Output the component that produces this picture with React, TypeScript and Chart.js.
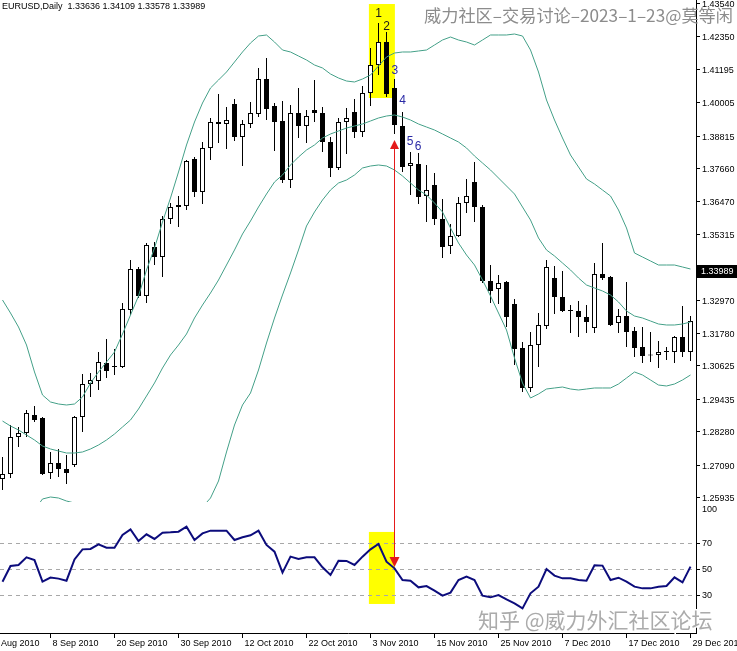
import React, { useEffect, useRef } from 'react';
import { Chart, registerables } from 'chart.js';

Chart.register(...registerables);

const symbolTitle = 'EURUSD,Daily  1.33636 1.34109 1.33578 1.33989';
const lastPrice = 1.33989;
const watermarkTop = '威力社区–交易讨论–2023–1–23@莫等闲';
const watermarkBottom = '知乎 @威力外汇社区论坛';

const dateTickBars = [-2, 6, 14, 22, 30, 38, 46, 54, 62, 70, 78, 86];
const dateTickLabels = ['27 Aug 2010', '8 Sep 2010', '20 Sep 2010', '30 Sep 2010', '12 Oct 2010', '22 Oct 2010', '3 Nov 2010', '15 Nov 2010', '25 Nov 2010', '7 Dec 2010', '17 Dec 2010', '29 Dec 2010'];

const priceTicks = [1.4354, 1.4235, 1.41195, 1.40005, 1.38815, 1.3766, 1.3647, 1.35315, 1.34135, 1.3297, 1.3178, 1.30625, 1.29435, 1.2828, 1.2709, 1.25935];
const rsiTickValues = [100, 70, 50, 30, 0];
const rsiLevels = [70, 50, 30];

const opens = [1.26577,1.26755,1.28073,1.28216,1.28857,1.28751,1.26790,1.27147,1.26933,1.27076,
1.28786,1.29962,1.30069,1.30711,1.30604,1.30568,1.32600,1.34060,1.33098,1.34844,
1.34488,1.35842,1.36270,1.36305,1.37980,1.36804,1.38372,1.39299,1.39228,1.39940,
1.38764,1.39228,1.39584,1.40832,1.39869,1.39335,1.37232,1.39620,1.39156,1.39727,
1.39620,1.38586,1.37660,1.39299,1.39655,1.38943,1.40333,1.41331,1.42150,1.40511,
1.39156,1.37731,1.37802,1.36662,1.37054,1.35842,1.34880,1.35236,1.36412,1.37161,
1.36270,1.33632,1.33347,1.33597,1.32813,1.31245,1.29820,1.31352,1.32029,1.33739,
1.33062,1.32600,1.32564,1.32350,1.31958,1.33882,1.33775,1.32136,1.32386,1.31851,
1.31281,1.30996,1.30996,1.31139,1.31103,1.31637,1.31103];

const highs = [1.27361,1.28501,1.28430,1.29036,1.29178,1.28786,1.27539,1.27646,1.27432,1.28822,
1.30319,1.30354,1.31103,1.31566,1.31210,1.32849,1.34381,1.34131,1.34987,1.35022,
1.35949,1.36412,1.36662,1.37945,1.38052,1.38586,1.39442,1.40297,1.39834,1.40119,
1.39370,1.40012,1.41224,1.41580,1.39976,1.40047,1.39905,1.40511,1.39727,1.40796,
1.39834,1.38764,1.39442,1.39798,1.40119,1.40582,1.41936,1.42827,1.42507,1.40832,
1.39655,1.38230,1.38194,1.37767,1.37481,1.36555,1.35664,1.36626,1.37268,1.37873,
1.36341,1.34203,1.33846,1.33632,1.32991,1.31459,1.31816,1.32493,1.34381,1.34167,
1.33989,1.32778,1.32920,1.32778,1.34274,1.34987,1.33810,1.32635,1.33597,1.31994,
1.31994,1.31816,1.31495,1.31281,1.31673,1.32742,1.32386];

const lows = [1.26185,1.26612,1.27717,1.28073,1.28608,1.26719,1.26577,1.26648,1.26398,1.27004,
1.28252,1.29499,1.29749,1.30176,1.30283,1.30533,1.32421,1.33027,1.32849,1.34203,
1.33775,1.35664,1.35557,1.36163,1.36626,1.36376,1.37945,1.38551,1.38337,1.38622,
1.37731,1.39085,1.39477,1.39370,1.38266,1.37125,1.36947,1.38729,1.38551,1.39299,
1.38230,1.37339,1.37588,1.38159,1.38729,1.38764,1.39869,1.40974,1.40190,1.38871,
1.37517,1.36697,1.36376,1.35735,1.35628,1.34452,1.34595,1.35200,1.36056,1.35735,
1.33561,1.32849,1.32813,1.31994,1.30640,1.29677,1.29677,1.30568,1.31923,1.32457,
1.32528,1.31780,1.31637,1.31780,1.31780,1.33668,1.32029,1.31780,1.31281,1.30925,
1.30711,1.30746,1.30533,1.30818,1.30711,1.30925,1.30782];

const closes = [1.26755,1.28073,1.28216,1.28929,1.28679,1.26755,1.27147,1.26933,1.26790,1.28786,
1.29962,1.30105,1.30746,1.30426,1.30568,1.32635,1.34060,1.33098,1.34915,1.34488,
1.35842,1.36270,1.36341,1.37909,1.36804,1.38372,1.39299,1.39228,1.39370,1.38764,
1.39228,1.39620,1.40832,1.39762,1.39299,1.37232,1.39620,1.39156,1.39513,1.39620,
1.38586,1.37660,1.39299,1.39442,1.38943,1.40333,1.41331,1.42150,1.40297,1.39192,
1.37695,1.37838,1.36626,1.36876,1.35842,1.34844,1.35236,1.36412,1.36662,1.36270,
1.33632,1.33276,1.33561,1.32350,1.31210,1.29820,1.31352,1.32065,1.34131,1.33062,
1.32564,1.32564,1.32350,1.32172,1.33882,1.33739,1.32065,1.32386,1.31816,1.31245,
1.30960,1.30980,1.31103,1.31103,1.31637,1.31103,1.32208];

const bbUpper = [1.32956,1.32492,1.31993,1.31352,1.30390,1.29570,1.29321,1.29249,1.29214,1.29249,
1.29499,1.29998,1.30390,1.30746,1.31102,1.31744,1.32421,1.33098,1.34025,1.34809,
1.35735,1.36591,1.37517,1.38480,1.39299,1.39976,1.40511,1.40796,1.41081,1.41437,
1.41794,1.42115,1.42364,1.42400,1.42150,1.41865,1.41794,1.41651,1.41509,1.41331,
1.41224,1.41010,1.40867,1.40760,1.40725,1.40832,1.40974,1.41295,1.41616,1.41758,
1.41794,1.41794,1.41830,1.41865,1.42043,1.42221,1.42328,1.42221,1.42150,1.42043,
1.42221,1.42400,1.42400,1.42400,1.42435,1.42364,1.41865,1.41081,1.40083,1.39370,
1.38729,1.38123,1.37696,1.37268,1.37090,1.36876,1.36662,1.36163,1.35522,1.34631,
1.34488,1.34346,1.34203,1.34203,1.34203,1.34132,1.34060];

const bbMiddle = [1.28643,1.28465,1.28323,1.28145,1.27966,1.27753,1.27646,1.27574,1.27503,1.27503,
1.27539,1.27646,1.27788,1.27966,1.28180,1.28430,1.28679,1.29071,1.29534,1.29998,
1.30532,1.30996,1.31352,1.31744,1.32314,1.32777,1.33205,1.33668,1.34203,1.34738,
1.35308,1.35771,1.36270,1.36733,1.37161,1.37410,1.37767,1.38052,1.38301,1.38480,
1.38729,1.38872,1.38978,1.39085,1.39157,1.39228,1.39335,1.39442,1.39513,1.39549,
1.39477,1.39370,1.39228,1.39121,1.39014,1.38872,1.38729,1.38586,1.38373,1.38088,
1.37838,1.37589,1.37303,1.37018,1.36733,1.36270,1.35807,1.35165,1.34738,1.34524,
1.34274,1.34025,1.33740,1.33490,1.33383,1.33276,1.33134,1.32884,1.32564,1.32385,
1.32314,1.32207,1.32100,1.32065,1.32065,1.32100,1.32172];

const bbLower = [1.24331,1.24474,1.24652,1.24937,1.25472,1.25864,1.25935,1.25899,1.25792,1.25721,
1.25543,1.25365,1.25187,1.25187,1.25222,1.25151,1.24973,1.25008,1.25008,1.25187,
1.25329,1.25400,1.25187,1.24973,1.25329,1.25579,1.25899,1.26505,1.27539,1.28501,
1.29214,1.29641,1.30461,1.31423,1.32314,1.33134,1.33918,1.34738,1.35593,1.36092,
1.36519,1.36876,1.37125,1.37232,1.37410,1.37660,1.37731,1.37767,1.37731,1.37589,
1.37375,1.37125,1.36876,1.36698,1.36413,1.36092,1.35522,1.34987,1.34559,1.34203,
1.33668,1.33098,1.32492,1.31887,1.30889,1.29998,1.29463,1.29606,1.29784,1.29820,
1.29855,1.29784,1.29748,1.29784,1.29820,1.29820,1.29820,1.29962,1.30176,1.30390,
1.30283,1.30105,1.29926,1.29891,1.29962,1.30105,1.30283];

const rsiValues = [40.2,52.3,53.1,59.0,56.9,40.3,43.4,42.6,41.0,57.4,
65.1,65.4,69.0,66.4,66.4,76.2,80.5,71.5,76.7,73.1,
77.9,78.2,78.7,82.6,72.3,77.4,79.5,79.5,79.5,72.3,
74.4,75.9,79.5,68.5,63.3,47.2,59.5,57.7,59.0,59.0,
51.3,45.4,56.4,56.2,53.1,59.5,65.1,69.2,55.6,50.5,
41.5,41.0,35.9,36.9,33.3,29.5,31.8,41.5,44.1,41.5,
29.5,28.2,30.0,26.7,23.6,19.7,31.3,36.4,50.0,44.9,
42.8,42.8,41.5,41.0,52.8,52.6,41.5,43.3,40.3,36.4,
35.1,35.1,36.4,36.9,43.6,39.7,51.8];

// annotations (anchored in data coordinates)
const waveLabels = ['1', '2', '3', '4', '5', '6'];
const waveBars = [47, 48, 49.05, 50, 50.95, 51.95];
const wavePrices = [1.43148, 1.42685, 1.41117, 1.40047, 1.38586, 1.38408];
const waveColors = ['#1a1a1a', '#1a1a1a', '#2a2aa6', '#2a2aa6', '#2a2aa6', '#2a2aa6'];
const highlightBars = [45.8, 49.05];
const highlightPrices = [1.43504, 1.40155];
const highlightRsi = [78.5, 23.1];
const signalBar = 49;
const arrowTopPrice = 1.38658;
const arrowBottomRsi = 51.5;

const AXIS_FONT = '9px "Liberation Sans", Arial, sans-serif';
const BAND_COLOR = '#44a088';
const X_MIN = -0.3125;
const X_MAX = 86.6875;

const mainOverlay = {
  id: 'mainOverlay',
  beforeDatasetsDraw(chart: any) {
    const { ctx, scales: { x, y } } = chart;
    ctx.save();
    ctx.fillStyle = '#ffff00';
    const x0 = x.getPixelForValue(highlightBars[0]);
    const x1 = x.getPixelForValue(highlightBars[1]);
    const y0 = y.getPixelForValue(highlightPrices[0]);
    const y1 = y.getPixelForValue(highlightPrices[1]);
    ctx.fillRect(x0, y0, x1 - x0, y1 - y0);
    ctx.restore();
  },
  afterDatasetsDraw(chart: any) {
    const { ctx, scales: { x, y } } = chart;
    ctx.save();
    const ax = Math.round(x.getPixelForValue(signalBar) - 0.5) + 0.5;
    const ay = y.getPixelForValue(arrowTopPrice);
    ctx.strokeStyle = '#e41a1a';
    ctx.fillStyle = '#e41a1a';
    ctx.lineWidth = 1;
    ctx.beginPath();
    ctx.moveTo(ax, ay + 6);
    ctx.lineTo(ax, chart.height);
    ctx.stroke();
    ctx.beginPath();
    ctx.moveTo(ax, ay);
    ctx.lineTo(ax - 4.5, ay + 9);
    ctx.lineTo(ax + 4.5, ay + 9);
    ctx.closePath();
    ctx.fill();
    ctx.font = '12px "Liberation Sans", Arial, sans-serif';
    ctx.textAlign = 'center';
    ctx.textBaseline = 'middle';
    waveLabels.forEach((t, i) => {
      ctx.fillStyle = waveColors[i];
      ctx.fillText(t, x.getPixelForValue(waveBars[i]), y.getPixelForValue(wavePrices[i]));
    });
    ctx.restore();
  },
  afterDraw(chart: any) {
    const { ctx, chartArea, scales: { y } } = chart;
    const r = chartArea.right;
    ctx.save();
    ctx.strokeStyle = '#000';
    ctx.lineWidth = 1;
    ctx.beginPath();
    ctx.moveTo(r + 0.5, 0);
    ctx.lineTo(r + 0.5, chart.height);
    ctx.stroke();
    ctx.font = AXIS_FONT;
    ctx.fillStyle = '#000';
    ctx.textAlign = 'left';
    ctx.textBaseline = 'middle';
    priceTicks.forEach((v) => {
      const py = Math.round(y.getPixelForValue(v)) + 0.5;
      ctx.beginPath();
      ctx.moveTo(r + 1, py);
      ctx.lineTo(r + 4, py);
      ctx.stroke();
      ctx.fillText(v.toFixed(5), r + 6, py + 1.5);
    });
    const by = Math.round(y.getPixelForValue(lastPrice));
    ctx.fillStyle = '#000';
    ctx.fillRect(r + 1, by - 6, chart.width - r - 1, 13);
    ctx.fillStyle = '#fff';
    ctx.fillText(lastPrice.toFixed(5), r + 5, by + 1);
    ctx.fillStyle = '#000';
    ctx.fillText(symbolTitle, 2, 7);
    ctx.font = '17.2px "Noto Sans CJK SC", sans-serif';
    ctx.fillStyle = '#8c8c8c';
    ctx.textAlign = 'right';
    ctx.fillText(watermarkTop, 733, 15);
    ctx.restore();
  },
};

const rsiOverlay = {
  id: 'rsiOverlay',
  beforeDatasetsDraw(chart: any) {
    const { ctx, chartArea, scales: { x, y } } = chart;
    ctx.save();
    ctx.fillStyle = '#ffff00';
    const x0 = x.getPixelForValue(highlightBars[0]);
    const x1 = x.getPixelForValue(highlightBars[1]);
    const y0 = y.getPixelForValue(highlightRsi[0]);
    const y1 = y.getPixelForValue(highlightRsi[1]);
    ctx.fillRect(x0, y0, x1 - x0, y1 - y0);
    ctx.strokeStyle = '#a8a8a8';
    ctx.lineWidth = 1;
    ctx.setLineDash([4, 4]);
    rsiLevels.forEach((lv) => {
      const py = Math.round(y.getPixelForValue(lv)) + 0.5;
      ctx.beginPath();
      ctx.moveTo(chartArea.left, py);
      ctx.lineTo(chartArea.right, py);
      ctx.stroke();
    });
    ctx.restore();
  },
  afterDatasetsDraw(chart: any) {
    const { ctx, scales: { x, y } } = chart;
    ctx.save();
    const ax = Math.round(x.getPixelForValue(signalBar) - 0.5) + 0.5;
    const ay = y.getPixelForValue(arrowBottomRsi);
    ctx.strokeStyle = '#e41a1a';
    ctx.fillStyle = '#e41a1a';
    ctx.lineWidth = 1;
    ctx.beginPath();
    ctx.moveTo(ax, 0);
    ctx.lineTo(ax, ay - 6);
    ctx.stroke();
    ctx.beginPath();
    ctx.moveTo(ax, ay);
    ctx.lineTo(ax - 5, ay - 10);
    ctx.lineTo(ax + 5, ay - 10);
    ctx.closePath();
    ctx.fill();
    ctx.restore();
  },
  afterDraw(chart: any) {
    const { ctx, chartArea, scales: { x, y } } = chart;
    const r = chartArea.right;
    const b = chartArea.bottom;
    ctx.save();
    ctx.strokeStyle = '#000';
    ctx.lineWidth = 1;
    ctx.beginPath();
    ctx.moveTo(r + 0.5, 0);
    ctx.lineTo(r + 0.5, b);
    ctx.moveTo(0, b - 0.5);
    ctx.lineTo(r + 1, b - 0.5);
    ctx.stroke();
    ctx.font = AXIS_FONT;
    ctx.fillStyle = '#000';
    ctx.textBaseline = 'middle';
    ctx.textAlign = 'left';
    rsiTickValues.forEach((v) => {
      const py = Math.round(y.getPixelForValue(v)) + 0.5;
      if (v !== 0 && v !== 100) {
        ctx.beginPath();
        ctx.moveTo(r + 1, py);
        ctx.lineTo(r + 4, py);
        ctx.stroke();
      }
      const ly = Math.min(Math.max(py, chartArea.top + 6), b - 8);
      ctx.fillText(String(v), r + 6, ly);
    });
    dateTickBars.forEach((bar, i) => {
      const px = Math.round(x.getPixelForValue(bar) - 0.5) + 0.5;
      ctx.beginPath();
      ctx.moveTo(px, b);
      ctx.lineTo(px, b + 4);
      ctx.stroke();
      ctx.fillText(dateTickLabels[i], px + 2, b + 10);
    });
    ctx.font = '21px "Noto Sans CJK SC", sans-serif';
    ctx.textAlign = 'left';
    ctx.lineWidth = 3;
    ctx.strokeStyle = '#ffffff';
    ctx.strokeText(watermarkBottom, 478, b - 14);
    ctx.fillStyle = '#ababab';
    ctx.fillText(watermarkBottom, 478, b - 14);
    ctx.restore();
  },
};

export default function App() {
  const mainRef = useRef<HTMLCanvasElement>(null);
  const rsiRef = useRef<HTMLCanvasElement>(null);

  useEffect(() => {
    document.body.style.margin = '0';
    const bandDs = (vals: number[], label: string) => ({
      type: 'line' as const,
      label,
      data: vals.map((v, i) => ({ x: i, y: v })),
      borderColor: BAND_COLOR,
      borderWidth: 1,
      pointRadius: 0,
      tension: 0,
      order: 1,
    });
    const main = new Chart(mainRef.current as HTMLCanvasElement, {
      type: 'bar',
      data: {
        datasets: [
          bandDs(bbUpper, 'upper'),
          bandDs(bbMiddle, 'middle'),
          bandDs(bbLower, 'lower'),
          {
            type: 'bar',
            label: 'bodies',
            data: opens.map((o, i) => ({ x: i, y: [o, closes[i]] })),
            backgroundColor: opens.map((o, i) => (closes[i] >= o ? '#ffffff' : '#000000')),
            borderColor: '#000000',
            borderWidth: 1,
            borderSkipped: false,
            barThickness: 5,
            minBarLength: 1,
            grouped: false,
            inflateAmount: 0,
            order: 2,
          } as any,
          {
            type: 'bar',
            label: 'wicks',
            data: lows.map((l, i) => ({ x: i, y: [l, highs[i]] })),
            backgroundColor: '#000000',
            borderWidth: 0,
            barThickness: 1,
            grouped: false,
            inflateAmount: 0,
            order: 3,
          } as any,
        ],
      },
      options: {
        responsive: false,
        animation: false,
        devicePixelRatio: 1,
        events: [],
        layout: { padding: { left: 0, top: 0, right: 41, bottom: 2 } },
        plugins: { legend: { display: false }, tooltip: { enabled: false } },
        scales: {
          x: { type: 'linear', min: X_MIN, max: X_MAX, display: false, offset: false },
          y: { type: 'linear', min: 1.25757, max: 1.43647, display: false },
        },
      } as any,
      plugins: [mainOverlay],
    });

    const rsiChart = new Chart(rsiRef.current as HTMLCanvasElement, {
      type: 'line',
      data: {
        datasets: [
          {
            label: 'RSI',
            data: rsiValues.map((v, i) => ({ x: i, y: v })),
            borderColor: '#0c0c7c',
            borderWidth: 2,
            pointRadius: 0,
            tension: 0,
          },
        ],
      },
      options: {
        responsive: false,
        animation: false,
        devicePixelRatio: 1,
        events: [],
        layout: { padding: { left: 0, top: 0, right: 41, bottom: 17 } },
        plugins: { legend: { display: false }, tooltip: { enabled: false } },
        scales: {
          x: { type: 'linear', min: X_MIN, max: X_MAX, display: false, offset: false },
          y: { type: 'linear', min: 0, max: 100, display: false },
        },
      } as any,
      plugins: [rsiOverlay],
    });

    return () => {
      main.destroy();
      rsiChart.destroy();
    };
  }, []);

  return (
    <div style={{ position: 'relative', width: 737, height: 651, background: '#ffffff', overflow: 'hidden' }}>
      <canvas ref={mainRef} width={737} height={504} style={{ position: 'absolute', left: 0, top: 0 }} />
      <canvas ref={rsiRef} width={737} height={147} style={{ position: 'absolute', left: 0, top: 504 }} />
    </div>
  );
}
